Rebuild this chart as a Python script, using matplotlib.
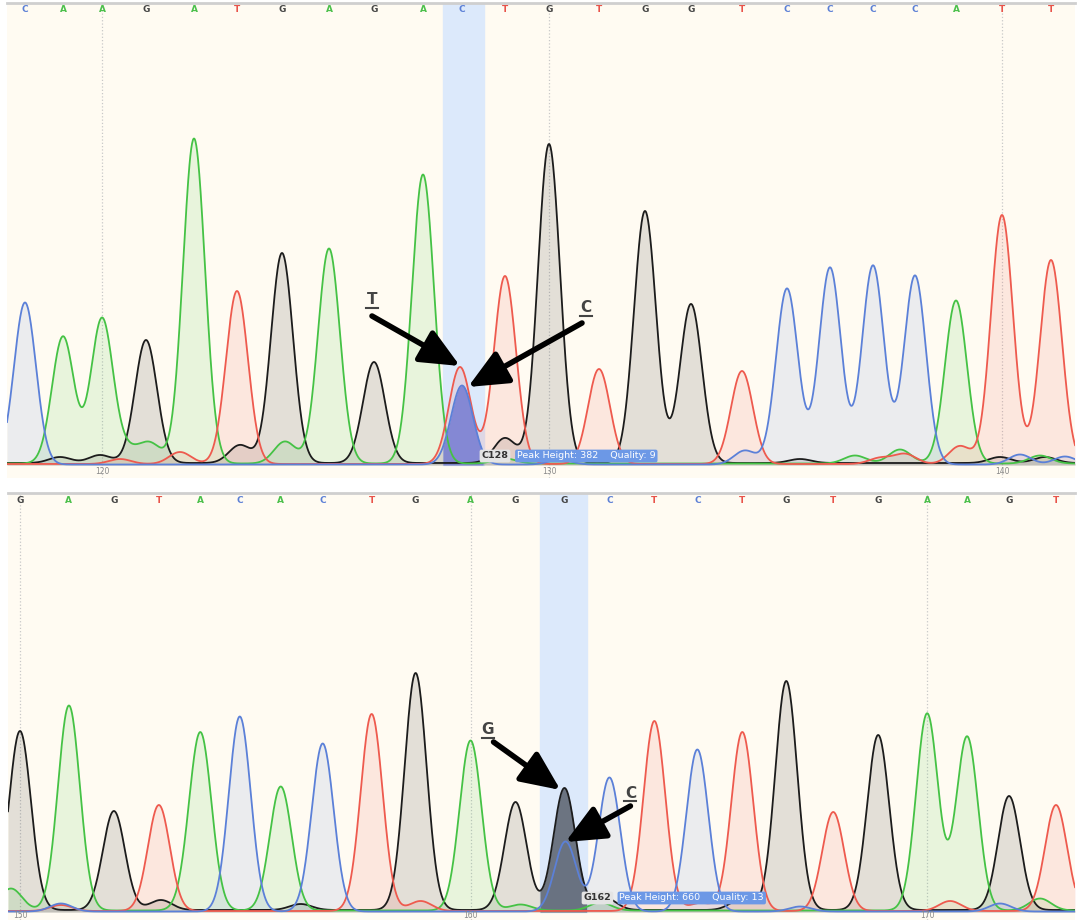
import numpy as np
import matplotlib
matplotlib.use('Agg')
from matplotlib import pyplot as plt

# top panel: base calls 118..141, scan position of each call, main peak height
top_start = 118
top_bases = 'CAAGATGAGACTGTGGTCCCCATT'
top_pos = [25, 63, 102, 146, 194, 237, 282, 329, 374, 423, 462, 505, 549, 599, 645, 691,
           742, 787, 830, 873, 915, 956, 1002, 1051]
top_height = [162, 127, 145, 123, 325, 173, 210, 215, 101, 289, 79, 188, 319, 95, 252, 159,
              93, 176, 197, 199, 189, 163, 249, 204]
# secondary peaks (position, height) per channel
top_extra = {
    'T': [(460, 97), (180, 12), (120, 5), (960, 18), (905, 10), (880, 6)],
    'G': [(505, 25), (100, 8), (240, 18), (60, 6), (800, 4), (1000, 6), (1045, 6)],
    'A': [(150, 20), (128, 12), (285, 22), (505, 5), (855, 8), (900, 14), (1040, 8)],
    'C': [(1020, 10), (1065, 8), (745, 14), (560, 5)],
}
top_ticks = [120, 130, 140]
top_sel = 128
top_sel_label = 'C128'
top_sel_info = 'Peak Height: 382    Quality: 9'

# bottom panel: base calls 150..173
bot_start = 150
bot_bases = 'GAGTACACTGAGGCTCTGTGAAGT'
bot_pos = [19, 68, 113, 158, 200, 239, 280, 322, 371, 415, 470, 515, 564, 609, 654, 697,
           742, 786, 833, 878, 927, 967, 1009, 1056]
bot_height = [179, 205, 99, 106, 169, 195, 124, 168, 197, 237, 170, 108, 122, 134, 190, 162,
              179, 229, 99, 175, 197, 174, 114, 106]
bot_extra = {
    'C': [(565, 70), (60, 8), (1000, 8), (800, 5)],
    'A': [(10, 22), (190, 14), (600, 8), (1040, 12), (520, 6)],
    'G': [(160, 10), (605, 12), (740, 10), (300, 6)],
    'T': [(420, 10), (700, 8), (950, 10), (60, 6)],
}
bot_ticks = [150, 160, 170]
bot_sel = 162
bot_sel_label = 'G162'
bot_sel_info = 'Peak Height: 660    Quality: 13'

colors = {'A': '#45c245', 'C': '#5b80d8', 'G': '#1c1c1c', 'T': '#ee5a4e'}
letter_colors = {'A': '#4cc04c', 'C': '#5b7fd6', 'G': '#454545', 'T': '#e8534a'}
sel_fill = {'C': '#6c72cf', 'G': '#4f5662'}
baseline = {'A': 1.5, 'C': 0.5, 'G': 2.0, 'T': 1.0}
sigma = 11.0


def draw_panel(ax, bases, pos, heights, extra, start, ticks, sel, sel_label, sel_info,
               ylim, arrows):
    ax.set_facecolor('#fffbf2')
    ax.set_xlim(7, 1075)
    ax.set_ylim(*ylim)
    x = np.linspace(7, 1075, 2500)

    i_sel = sel - start
    lo = (pos[i_sel - 1] + pos[i_sel]) / 2
    hi = (pos[i_sel] + pos[i_sel + 1]) / 2
    ax.axvspan(lo, hi, ymin=-ylim[0] / (ylim[1] - ylim[0]), color='#dce9fb', zorder=0)

    for t in ticks:
        ax.axvline(pos[t - start], color='#c8c8c8', ls=':', lw=0.9, zorder=0.5)
        ax.text(pos[t - start], ylim[0] * 0.5, str(t), ha='center', va='center',
                fontsize=5.5, color='#888888')

    for b, p in zip(bases, pos):
        ax.text(p, ylim[1] - 7, b, ha='center', va='center', fontsize=6.5,
                color=letter_colors[b], fontweight='bold')

    traces = {}
    for ch in 'ACGT':
        y = np.full_like(x, baseline[ch])
        for b, p, h in zip(bases, pos, heights):
            if b == ch:
                y += h * np.exp(-(x - p) ** 2 / (2 * sigma ** 2))
        for p, h in extra[ch]:
            y += h * np.exp(-(x - p) ** 2 / (2 * sigma ** 2))
        traces[ch] = y

    for ch in 'GATC':
        ax.fill_between(x, 0, traces[ch], color=colors[ch], alpha=0.12, lw=0, zorder=1)
    sel_base = bases[i_sel]
    m = (x >= lo) & (x <= hi)
    ax.fill_between(x[m], 0, traces[sel_base][m], color=sel_fill[sel_base], alpha=0.75,
                    lw=0, zorder=1.5)
    for ch in 'GATC':
        ax.plot(x, traces[ch], color=colors[ch], lw=1.3, zorder=2)

    # selected peak info
    xs = pos[i_sel] + 33
    ax.text(xs, ylim[0] + 22, sel_label, ha='center', va='center', fontsize=6.8,
            fontweight='bold', color='#333333', zorder=5,
            bbox=dict(boxstyle='round,pad=0.2', fc='#e4e4e4', ec='none'))
    ax.text(xs + 22, ylim[0] + 22, sel_info, ha='left', va='center', fontsize=6.8,
            color='white', zorder=5,
            bbox=dict(boxstyle='round,pad=0.2', fc='#6c98e6', ec='none'))

    for lab, lxy, tail, tip in arrows:
        ax.text(lxy[0], lxy[1], lab, ha='center', va='center', fontsize=11,
                fontweight='bold', color='#444444', zorder=6)
        ax.plot([lxy[0] - 6, lxy[0] + 6], [lxy[1] - 8, lxy[1] - 8], color='#444444',
                lw=1.5, zorder=6)
        ax.annotate('', xy=tip, xytext=tail, zorder=6,
                    arrowprops=dict(arrowstyle='-|>,head_length=1.0,head_width=0.45',
                                    color='black', lw=4, mutation_scale=24,
                                    shrinkA=0, shrinkB=0))

    for s in ['left', 'right', 'bottom']:
        ax.spines[s].set_visible(False)
    ax.spines['top'].set_color('#cfcfcf')
    ax.spines['top'].set_linewidth(2)
    ax.set_xticks([])
    ax.set_yticks([])


fig = plt.figure(figsize=(10.81, 9.24), dpi=100)
W, H = 1081, 924
ax1 = fig.add_axes([7 / W, 1 - 478 / H, 1068 / W, 475 / H])
ax2 = fig.add_axes([8 / W, 1 - 920 / H, 1067 / W, 427 / H])

draw_panel(ax1, top_bases, top_pos, top_height, top_extra, top_start, top_ticks,
           top_sel, top_sel_label, top_sel_info, (-13, 462),
           [('T', (372, 165), (372, 149), (460, 99)),
            ('C', (586, 157), (582, 142), (468, 78))])
draw_panel(ax2, bot_bases, bot_pos, bot_height, bot_extra, bot_start, bot_ticks,
           bot_sel, bot_sel_label, bot_sel_info, (-8, 419),
           [('G', (487, 182), (493, 170), (560, 122)),
            ('C', (630, 119), (630, 106), (565, 70))])

fig.savefig('out.png', dpi=100, facecolor='white')
